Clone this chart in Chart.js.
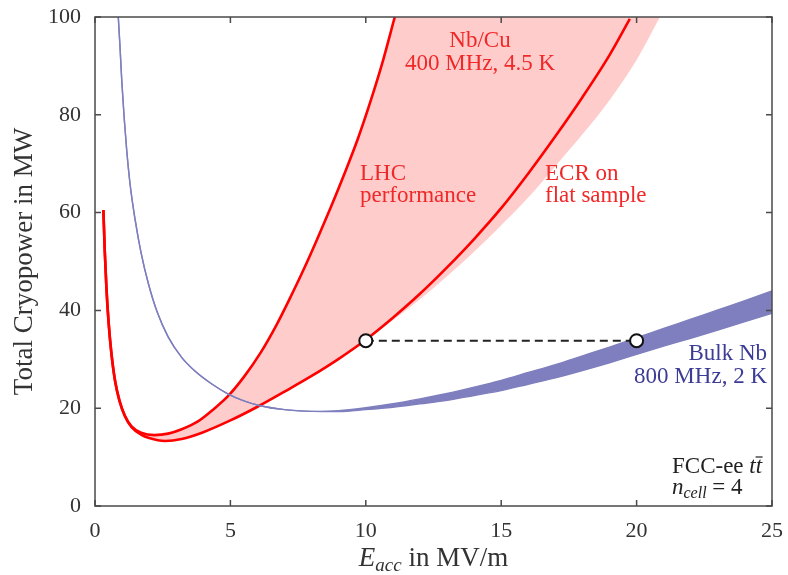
<!DOCTYPE html>
<html>
<head>
<meta charset="utf-8">
<script src="https://cdn.jsdelivr.net/npm/chart.js@4.4.0/dist/chart.umd.min.js"></script>
<style>
  body { margin: 0; background: #fff; }
  #wrap { width: 788px; height: 575px; }
</style>
</head>
<body>
<div id="wrap"><canvas id="cryoChart" width="788" height="575"></canvas></div>
<script>
// Values (E_acc in MV/m, cryopower in MW)
const lhcE = [0.31, 0.36, 0.42, 0.5, 0.6, 0.74, 0.9, 1.1, 1.35, 1.7, 2.2, 2.7, 3.2, 3.8, 4.4, 4.9, 5.5, 6.1, 6.7, 7.2, 7.7, 8.2, 8.7, 9.2, 9.7, 10.2, 10.6, 11.07];
const lhcP = [60.5, 52.2, 44.8, 37.7, 31.5, 25.6, 21.6, 18.5, 16.3, 15.0, 14.5, 14.8, 15.7, 17.3, 19.9, 22.4, 26.4, 31.2, 37.0, 42.5, 48.3, 54.5, 61.0, 67.8, 75.0, 83.2, 90.4, 100];

const ecrE = [0.31, 0.36, 0.42, 0.5, 0.6, 0.74, 0.9, 1.1, 1.35, 1.7, 2.0, 2.58, 3.2, 4, 5, 6, 7, 8, 9, 10, 11, 12, 13, 14, 15, 16, 17, 18, 19, 19.75];
const ecrP = [60.5, 52.2, 44.8, 37.7, 31.5, 25.6, 21.6, 18.4, 16.1, 14.6, 13.9, 13.3, 13.7, 15.1, 17.5, 20.3, 23.4, 26.6, 30.1, 34.0, 38.5, 43.4, 48.8, 54.6, 60.9, 68.0, 75.6, 83.6, 92.2, 99.6];

// outer edge of the pink Nb/Cu band
const bandE = [1.35, 1.7, 2.0, 2.58, 3.2, 4, 5, 6, 7, 8, 9, 10, 11, 12, 13, 14, 15, 16, 17, 18, 19, 20, 20.86];
const bandP = [16.1, 14.6, 13.9, 13.3, 13.7, 15.1, 17.5, 20.3, 23.4, 26.6, 30.1, 33.9, 38.0, 42.3, 47.0, 52.0, 57.4, 63.1, 69.5, 76.0, 83.0, 91.2, 100];

// bulk Nb, 800 MHz
const nbE = [0.86, 0.93, 0.99, 1.08, 1.17, 1.3, 1.48, 1.7, 1.97, 2.3, 2.7, 3.2, 3.69, 4.3, 4.92, 5.5, 6.1, 7, 8, 9, 10, 11, 12, 13, 14, 15, 16, 17, 18, 19, 20, 21, 22, 23, 24, 25];
const nbUpper = [100, 93.2, 86.8, 79.2, 72.8, 65.6, 58.6, 51.8, 45.5, 39.6, 34.6, 30.4, 27.6, 25.0, 22.9, 21.5, 20.5, 19.7, 19.35, 19.5, 20.1, 20.9, 21.9, 23.0, 24.3, 25.7, 27.3, 28.9, 30.7, 32.5, 34.4, 36.3, 38.2, 40.1, 42.0, 44.0];
const nbLower = [100, 93.2, 86.8, 79.2, 72.8, 65.6, 58.6, 51.8, 45.5, 39.6, 34.6, 30.4, 27.6, 25.0, 22.9, 21.5, 20.5, 19.7, 19.35, 19.3, 19.7, 20.2, 20.9, 21.6, 22.6, 23.6, 24.9, 26.2, 27.7, 29.3, 31.0, 32.7, 34.3, 36.0, 37.7, 39.4];

// equal-power comparison points
const refE = [10, 20];
const refP = [33.8, 33.8];

const xTicks = [0, 5, 10, 15, 20, 25];
const yTicks = [0, 20, 40, 60, 80, 100];

const pts = (xs, ys) => xs.map((x, i) => ({ x: x, y: ys[i] }));

const RED = '#ff0000';
const PINK = 'rgb(255,204,204)';
const BLUE = 'rgb(127,127,191)';
const SERIF = '"Liberation Serif", "Times New Roman", serif';

function drawRich(ctx, parts, x, y, align) {
    let w = 0;
    parts.forEach(p => { ctx.font = p.font; w += ctx.measureText(p.text).width; });
    let cx = align === 'center' ? x - w / 2 : (align === 'right' ? x - w : x);
    parts.forEach(p => {
        ctx.font = p.font;
        ctx.fillText(p.text, cx, y + (p.dy || 0));
        cx += ctx.measureText(p.text).width;
    });
    return cx;
}

// frame, inward ticks and all the labels
const decorations = {
    id: 'decorations',
    afterDatasetsDraw(chart) {
        const { ctx, chartArea: a, scales: { x, y } } = chart;
        ctx.save();
        ctx.strokeStyle = '#4a4a4a';
        ctx.lineWidth = 1.5;
        ctx.strokeRect(a.left, a.top, a.right - a.left, a.bottom - a.top);
        ctx.beginPath();
        xTicks.forEach(v => {
            const px = x.getPixelForValue(v);
            ctx.moveTo(px, a.bottom); ctx.lineTo(px, a.bottom - 6);
            ctx.moveTo(px, a.top); ctx.lineTo(px, a.top + 6);
        });
        yTicks.forEach(v => {
            const py = y.getPixelForValue(v);
            ctx.moveTo(a.left, py); ctx.lineTo(a.left + 6, py);
            ctx.moveTo(a.right, py); ctx.lineTo(a.right - 6, py);
        });
        ctx.stroke();

        ctx.textBaseline = 'alphabetic';
        ctx.textAlign = 'left';

        // axis titles
        ctx.fillStyle = '#333';
        drawRich(ctx, [
            { text: 'E', font: 'italic 27px ' + SERIF },
            { text: 'acc', font: 'italic 19px ' + SERIF, dy: 5 },
            { text: ' in MV/m', font: '27px ' + SERIF }
        ], (a.left + a.right) / 2, 566, 'center');
        ctx.save();
        ctx.translate(32, (a.top + a.bottom) / 2);
        ctx.rotate(-Math.PI / 2);
        drawRich(ctx, [{ text: 'Total Cryopower in MW', font: '27px ' + SERIF }], 0, 0, 'center');
        ctx.restore();

        // red annotations
        const f = '23px ' + SERIF;
        ctx.fillStyle = 'rgb(240,40,40)';
        drawRich(ctx, [{ text: 'Nb/Cu', font: f }], 480, 47, 'center');
        drawRich(ctx, [{ text: '400 MHz, 4.5 K', font: f }], 480, 70, 'center');
        drawRich(ctx, [{ text: 'LHC', font: f }], 360, 180, 'left');
        drawRich(ctx, [{ text: 'performance', font: f }], 360, 202, 'left');
        drawRich(ctx, [{ text: 'ECR on', font: f }], 545, 180, 'left');
        drawRich(ctx, [{ text: 'flat sample', font: f }], 545, 202, 'left');

        // blue annotation
        ctx.fillStyle = 'rgb(60,60,150)';
        drawRich(ctx, [{ text: 'Bulk Nb', font: f }], 767, 360, 'right');
        drawRich(ctx, [{ text: '800 MHz, 2 K', font: f }], 767, 383, 'right');

        // machine / cavity note
        ctx.fillStyle = '#222';
        const end = drawRich(ctx, [
            { text: 'FCC-ee ', font: f },
            { text: 't', font: 'italic ' + f },
            { text: 't', font: 'italic ' + f }
        ], 672, 473, 'left');
        ctx.strokeStyle = '#222';
        ctx.lineWidth = 1.2;
        ctx.beginPath();
        ctx.moveTo(end - 6.5, 457); ctx.lineTo(end + 0.5, 457);
        ctx.stroke();
        drawRich(ctx, [
            { text: 'n', font: 'italic ' + f },
            { text: 'cell', font: 'italic 16px ' + SERIF, dy: 4 },
            { text: ' = 4', font: f }
        ], 672, 494, 'left');
        ctx.restore();
    }
};

const curve = {
    showLine: true,
    pointRadius: 0,
    cubicInterpolationMode: 'monotone',
    fill: false
};

new Chart(document.getElementById('cryoChart'), {
    type: 'scatter',
    data: {
        datasets: [
            { data: pts(refE, refP), showLine: false, pointRadius: 6.5, pointBorderWidth: 2,
              pointBackgroundColor: '#fff', pointBorderColor: '#111', order: 0 },
            { data: pts(refE, refP), showLine: true, pointRadius: 0, borderColor: '#222',
              borderWidth: 2, borderDash: [8, 5], order: 1 },
            Object.assign({}, curve, { data: pts(nbE, nbUpper), borderColor: BLUE, borderWidth: 1.4,
              fill: '+1', backgroundColor: BLUE, order: 2 }),
            Object.assign({}, curve, { data: pts(nbE, nbLower), borderColor: BLUE, borderWidth: 1.4, order: 3 }),
            Object.assign({}, curve, { data: pts(ecrE, ecrP), borderColor: RED, borderWidth: 2.6, order: 4 }),
            Object.assign({}, curve, { data: pts(lhcE, lhcP), borderColor: RED, borderWidth: 2.6,
              fill: { value: 100 }, backgroundColor: '#fff', order: 5 }),
            Object.assign({}, curve, { data: pts(bandE, bandP), borderWidth: 0, borderColor: PINK,
              fill: { value: 100 }, backgroundColor: PINK, order: 6 })
        ]
    },
    options: {
        responsive: false,
        animation: false,
        layout: { padding: { top: 17, right: 16, left: 0, bottom: 0 } },
        plugins: { legend: { display: false }, tooltip: { enabled: false } },
        scales: {
            x: {
                type: 'linear', min: 0, max: 25,
                afterFit(s) { s.height = 69; s.paddingLeft = 0; s.paddingRight = 0; },
                afterBuildTicks(s) { s.ticks = xTicks.map(v => ({ value: v })); },
                grid: { display: false, drawTicks: false },
                border: { display: false },
                ticks: { padding: 12, color: '#333', font: { family: SERIF, size: 22 } }
            },
            y: {
                type: 'linear', min: 0, max: 100,
                afterFit(s) { s.width = 95; s.paddingTop = 0; s.paddingBottom = 0; },
                afterBuildTicks(s) { s.ticks = yTicks.map(v => ({ value: v })); },
                grid: { display: false, drawTicks: false },
                border: { display: false },
                ticks: { padding: 14, color: '#333', font: { family: SERIF, size: 22 } }
            }
        }
    },
    plugins: [decorations]
});
</script>
</body>
</html>
